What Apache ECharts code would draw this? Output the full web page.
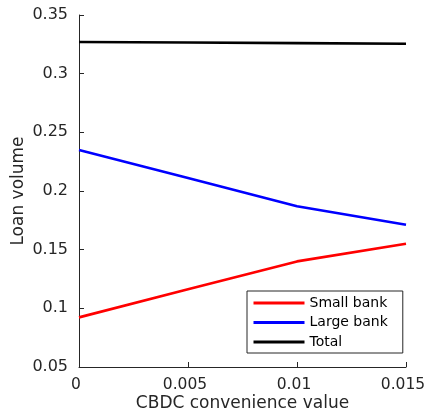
<!DOCTYPE html>
<html>
<head>
<meta charset="utf-8">
<script src="https://cdn.jsdelivr.net/npm/echarts@6/dist/echarts.min.js"></script>
<style>
html,body{margin:0;padding:0;background:#fff;}
#main{width:426px;height:418px;}
</style>
</head>
<body>
<div id="main"></div>
<script>
// x values (CBDC convenience value)
var xVals = [0, 0.005, 0.01, 0.015];
// loan volumes
var smallBank = [0.0923, 0.1162, 0.1400, 0.1550];
var largeBank = [0.2349, 0.2110, 0.1870, 0.1712];
var total = [0.3270, 0.3265, 0.3260, 0.3255];
var seriesNames = ['Small bank', 'Large bank', 'Total'];

function pairs(ys){
	var out = [];
	for (var i = 0; i < xVals.length; i++) out.push([xVals[i], ys[i]]);
	return out;
}

var myChart = echarts.init(document.getElementById('main'));
var font = 'DejaVu Sans';
var axisColor = '#262626';

var option = {
	animation: false,
	backgroundColor: '#fff',
	grid: {
		left: 79,
		right: 20,
		top: 15,
		bottom: 51,
		outerBoundsMode: 'none'
	},
	xAxis: {
		type: 'value',
		min: 0,
		max: 0.015,
		interval: 0.005,
		name: 'CBDC convenience value',
		nameLocation: 'middle',
		nameGap: 28,
		nameMoveOverlap: false,
		nameTextStyle: {color: axisColor, fontSize: 17, fontFamily: font},
		axisLine: {show: true, lineStyle: {color: axisColor, width: 1}},
		axisTick: {show: true, inside: true, length: 5, lineStyle: {color: axisColor}},
		axisLabel: {color: axisColor, fontSize: 15.5, fontFamily: font, margin: 10, padding: [0, 6, 0, 0]},
		splitLine: {show: false}
	},
	yAxis: {
		type: 'value',
		min: 0.05,
		max: 0.35,
		interval: 0.05,
		name: 'Loan volume',
		nameLocation: 'middle',
		nameGap: 52,
		nameMoveOverlap: false,
		nameTextStyle: {color: axisColor, fontSize: 17, fontFamily: font},
		axisLine: {show: true, lineStyle: {color: axisColor, width: 1}},
		axisTick: {show: true, inside: true, length: 5, lineStyle: {color: axisColor}},
		axisLabel: {color: axisColor, fontSize: 16, fontFamily: font, margin: 11},
		splitLine: {show: false}
	},
	legend: {
		orient: 'vertical',
		left: 247,
		top: 291,
		data: seriesNames,
		itemWidth: 51,
		itemHeight: 14,
		itemGap: 5.5,
		itemStyle: {opacity: 0},
		lineStyle: {width: 3},
		padding: [5, 15, 4, 5],
		borderColor: axisColor,
		borderWidth: 1,
		borderRadius: 0,
		backgroundColor: '#fff',
		textStyle: {color: '#000', fontSize: 14, fontFamily: font}
	},
	series: [
		{
			name: seriesNames[0],
			type: 'line',
			data: pairs(smallBank),
			symbol: 'none',
			lineStyle: {color: '#ff0000', width: 2.6},
			itemStyle: {color: '#ff0000'}
		},
		{
			name: seriesNames[1],
			type: 'line',
			data: pairs(largeBank),
			symbol: 'none',
			lineStyle: {color: '#0000ff', width: 2.6},
			itemStyle: {color: '#0000ff'}
		},
		{
			name: seriesNames[2],
			type: 'line',
			data: pairs(total),
			symbol: 'none',
			lineStyle: {color: '#000000', width: 2.6},
			itemStyle: {color: '#000000'}
		}
	]
};

myChart.setOption(option);
</script>
</body>
</html>
